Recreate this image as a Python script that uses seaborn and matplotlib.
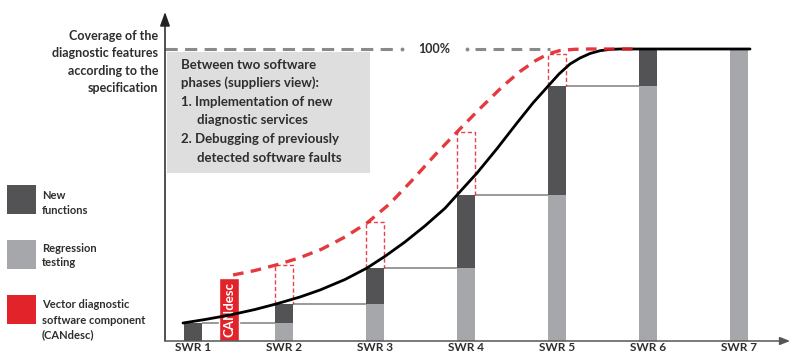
import matplotlib
matplotlib.use("Agg")
import matplotlib.pyplot as plt
from matplotlib import font_manager
import seaborn as sns
import pandas as pd

# ---------------- data ----------------
releases = ["SWR 1", "SWR 2", "SWR 3", "SWR 4", "SWR 5", "SWR 6", "SWR 7"]
positions = [0, 1, 2, 3, 4, 5, 6]
total_coverage = [6.2, 12.7, 25.0, 50.0, 87.3, 100.0, 100.0]      # top of each bar (%)
regression_part = [0.0, 6.2, 12.7, 25.0, 50.0, 87.3, 100.0]       # light grey part (%)
planned_top = [None, 26.0, 40.6, 71.6, 98.3, None, None]           # red dashed boxes top (%)
candesc_pos = 0.40
candesc_height = 21.6

actual_x = [-0.110, 0.132, 0.407, 0.681, 0.912, 1.176, 1.396, 1.670, 1.912, 2.110,
            2.330, 2.549, 2.769, 2.901, 3.121, 3.341, 3.560, 3.736, 3.901, 4.022,
            4.143, 4.253, 4.363, 4.473, 4.582, 4.692, 6.121]
actual_y = [6.16, 7.36, 8.90, 10.79, 12.67, 15.07, 17.47, 21.06, 25.00, 29.01,
            33.94, 39.42, 45.45, 50.00, 57.53, 65.89, 74.66, 81.51, 87.26, 91.44,
            94.86, 96.92, 98.46, 99.42, 99.86, 100.0, 100.0]

candesc_x = [0.440, 0.681, 0.912, 1.165, 1.418, 1.670, 1.912, 2.165, 2.407, 2.659,
             2.901, 3.154, 3.407, 3.593, 3.758, 3.901, 4.033, 4.198, 4.363, 4.912]
candesc_y = [22.60, 24.14, 26.03, 28.42, 31.51, 35.62, 40.41, 47.09, 55.00, 63.70,
             71.58, 79.62, 87.33, 92.29, 95.89, 98.29, 99.49, 99.90, 100.0, 100.0]

# ---------------- style ----------------
sns.set_theme(style="white")
avail = {f.name for f in font_manager.fontManager.ttflist}
fam = "Liberation Sans Narrow" if "Liberation Sans Narrow" in avail else "Lato"
plt.rcParams["font.family"] = [fam, "DejaVu Sans"]

DARK = "#535356"
LIGHT = "#a6a7aa"
RED = "#e2232a"
LINEC = "#8d8884"
TXT = "#2e2e2e"

W, H = 792, 355
fig = plt.figure(figsize=(W / 100, H / 100), dpi=100)
ax = fig.add_axes([165 / W, 14 / H, 625 / W, 329 / H])

def fp(x, y):
    return (x / W, 1 - y / H)

df = pd.DataFrame({"pos": positions, "total": total_coverage, "reg": regression_part})
bw = 0.2
sns.barplot(data=df, x="pos", y="total", native_scale=True, width=bw,
            color=DARK, saturation=1, errorbar=None, ax=ax, zorder=2)
sns.barplot(data=df, x="pos", y="reg", native_scale=True, width=bw,
            color=LIGHT, saturation=1, errorbar=None, ax=ax, zorder=2)
for p in ax.patches:
    p.set_edgecolor("none")

# CANdesc bar
ax.bar([candesc_pos], [candesc_height], width=0.22, color=RED, zorder=3)
ax.text(candesc_pos + 0.005, candesc_height / 2, "CANdesc", rotation=90, color="white",
        ha="center", va="center", fontsize=9.5, fontweight="bold", zorder=4)

# connecting horizontal lines
for i in range(len(positions) - 1):
    ax.hlines(total_coverage[i], positions[i] + bw / 2, positions[i + 1] - bw / 2,
              color=LINEC, lw=1.2, zorder=1)

# red dashed boxes
for i, t in enumerate(planned_top):
    if t is None:
        continue
    l, r, b = positions[i] - bw / 2, positions[i] + bw / 2, total_coverage[i]
    ax.plot([l, l, r, r], [b, t, t, b], color=RED, lw=1.0,
            linestyle=(0, (3, 1.8)), zorder=3, alpha=0.85)

# 100% reference line
ax.plot([-0.31, 2.22], [100, 100], color="#8a8a8a", lw=2.2, linestyle=(0, (4, 2.4)), zorder=1)
ax.plot([3.10, 3.92], [100, 100], color="#8a8a8a", lw=2.2, linestyle=(0, (3.5, 2.4)), zorder=1)
ax.plot([2.30, 3.01], [100, 100], color="#8a8a8a", lw=0, marker="o", markersize=1.8, zorder=1)
ax.text(2.65, 100, "100%", ha="center", va="center", fontsize=9, fontweight="bold", color=TXT)

# curves
sns.lineplot(x=actual_x, y=actual_y, sort=False, estimator=None, color="black",
             lw=2.0, ax=ax, zorder=5)
sns.lineplot(x=candesc_x, y=candesc_y, sort=False, estimator=None, color=RED,
             lw=2.4, linestyle=(0, (3.2, 2.2)), ax=ax, zorder=6, alpha=0.9)

ax.set_xlim(-0.3077, 6.5604)
ax.set_ylim(0, 112.67)
ax.set_xticks(positions, releases)
ax.set_yticks([])
ax.set_xlabel("")
ax.set_ylabel("")
ax.tick_params(axis="x", length=0, pad=1, labelsize=8.5, colors=TXT)
for lab in ax.get_xticklabels():
    lab.set_fontweight("bold")
for s in ax.spines.values():
    s.set_visible(False)
ax.patch.set_alpha(0)

# axes arrows
ax.annotate("", xy=(0, 1), xycoords="axes fraction", xytext=(0, 0),
            arrowprops=dict(arrowstyle="-|>,head_length=0.7,head_width=0.25",
                            lw=1.1, color="#222222", shrinkA=0, shrinkB=0))
ax.annotate("", xy=(1.0, 0), xycoords="axes fraction", xytext=(0, 0),
            arrowprops=dict(arrowstyle="-|>,head_length=0.5,head_width=0.2",
                            lw=1.1, color="#555555", shrinkA=0, shrinkB=0))

# explanation box
bx0, by0 = fp(167, 173)
bx1, by1 = fp(370, 52)
fig.patches.append(plt.Rectangle((bx0, by0), bx1 - bx0, by1 - by0, transform=fig.transFigure,
                                 facecolor="#dedede", edgecolor="none", zorder=0))
box_lines = [("Between two software", 181, 65), ("phases (suppliers view):", 181, 83),
             ("1. Implementation of new", 181, 102), ("diagnostic services", 197, 120),
             ("2. Debugging of previously", 181, 139), ("detected software faults", 197, 158)]
for t, x, y in box_lines:
    fig.text(*fp(x, y), t, ha="left", va="center", fontsize=9.5, fontweight="bold", color=TXT)

# y axis title
ylab = [("Coverage of the", 36), ("diagnostic features", 53), ("according to the", 71),
        ("specification", 88)]
for t, y in ylab:
    fig.text(*fp(158, y), t, ha="right", va="center", fontsize=9, fontweight="bold", color=TXT)

# legend
legend_items = [(DARK, 185, ["New", "functions"], 195),
                (LIGHT, 240, ["Regression", "testing"], 248),
                (RED, 295, ["Vector diagnostic", "software component", "(CANdesc)"], 305)]
for col, y0, lines, ty in legend_items:
    lx, ly = fp(7, y0 + 29)
    fig.patches.append(plt.Rectangle((lx, ly), 29 / W, 29 / H, transform=fig.transFigure,
                                     facecolor=col, edgecolor="none"))
    for k, t in enumerate(lines):
        fig.text(*fp(42, ty + 15 * k), t, ha="left", va="center", fontsize=8,
                 fontweight="bold", color=TXT)

fig.savefig("out.png", dpi=100)
